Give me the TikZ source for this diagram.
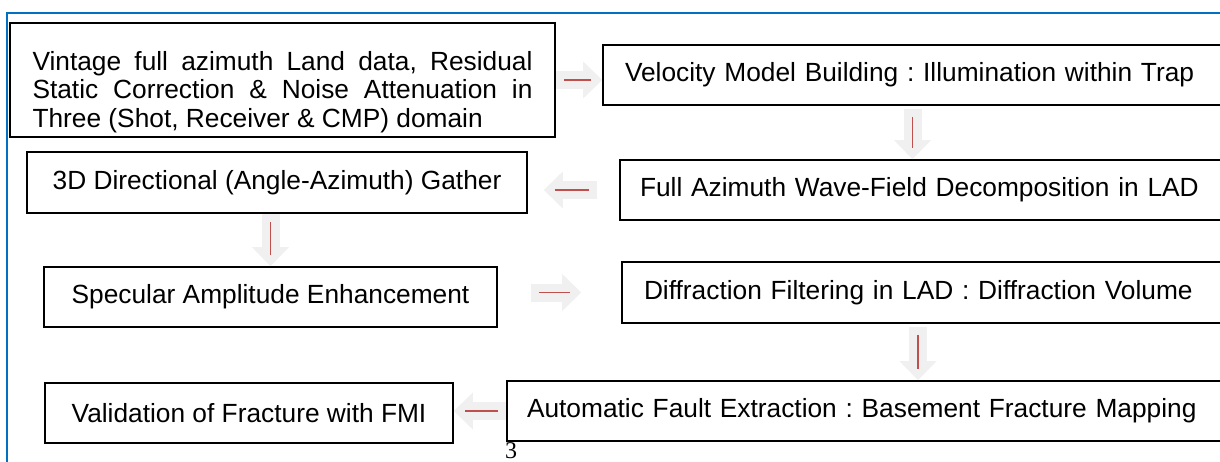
\documentclass[tikz,border=0pt]{standalone}
\usepackage{fontspec}
\setmainfont{Liberation Sans}
\newfontfamily\pagefont{Liberation Serif}
\usepackage{tikz}
\usetikzlibrary{arrows.meta,calc}

\definecolor{frameblue}{RGB}{0,112,192}
\definecolor{arrowgray}{RGB}{240,240,240}
\definecolor{arrowred}{RGB}{192,80,77}

\frenchspacing

\begin{document}
\begin{tikzpicture}[x=1pt, y=-1pt,
  every node/.style={font=\fontsize{26.3}{28.5}\selectfont},
  stepbox/.style={rectangle, draw, line width=1.6pt, inner sep=0pt, minimum height=60pt},
  fatarrow/.style={draw=arrowgray, line width=18pt, -{Triangle[length=19pt, width=37pt, line width=0pt]},
    postaction={draw=arrowred, line width=1.4pt, arrows=-, shorten <=8pt, shorten >=11pt}}]

\useasboundingbox (0,0) rectangle (1220,462);
\clip (0,0) rectangle (1220,462);

\draw[frameblue, line width=2pt] (7,470) -- (7,13) -- (1230,13);

\node[stepbox, minimum width=545pt, minimum height=114pt] (vintage) at (282.5,80) {\parbox{500pt}{\vspace*{24pt}\hyphenpenalty=10000 Vintage full azimuth Land data, Residual Static Correction \& Noise Attenuation in Three (Shot, Receiver \& CMP) domain}};

\node[stepbox, minimum width=619pt, text width=575pt, align=left] (velocity) at (912.5,75) {Velocity Model Building : Illumination within Trap};

\node[stepbox, minimum width=602pt, text width=562pt, align=left] (full) at (921,190) {Full Azimuth Wave-Field Decomposition in LAD};

\node[stepbox, minimum width=500pt, minimum height=61pt] (gather) at (277,182.5) {3D Directional (Angle-Azimuth) Gather};

\node[stepbox, minimum width=453pt] (specular) at (270.5,297) {Specular Amplitude Enhancement};

\node[stepbox, minimum width=600pt, minimum height=61pt, text width=556pt, align=left] (diffraction) at (922,292.5) {Diffraction Filtering in LAD : Diffraction Volume};

\node[stepbox, minimum width=715pt, text width=675pt, align=left] (automatic) at (864.5,411) {Automatic Fault Extraction : Basement Fracture Mapping};

\node[stepbox, minimum width=408pt] (validation) at (249,413) {Validation of Fracture with FMI};

\node[font=\pagefont\fontsize{24}{24}\selectfont, inner sep=0pt] (pagenum) at (511,451) {3};

\draw[fatarrow] (vintage.east) -- (vintage.east -| velocity.west);
\draw[fatarrow] ($(velocity.south)+(0,3)$) -- (velocity.south |- full.north);
\draw[fatarrow] ($(full.west)+(-22,0)$) -- ($(full.west -| gather.east)+(16,0)$);
\draw[fatarrow] (gather.south -| specular.north) -- (specular.north);
\draw[fatarrow] ($(diffraction.west -| specular.east)+(33,0)$) -- ($(diffraction.west)+(-40,0)$);
\draw[fatarrow] ($(diffraction.south)+(-4,3)$) -- ($(diffraction.south |- automatic.north)+(-4,0)$);
\draw[fatarrow] (automatic.west) -- (automatic.west -| validation.east);

\end{tikzpicture}
\end{document}
